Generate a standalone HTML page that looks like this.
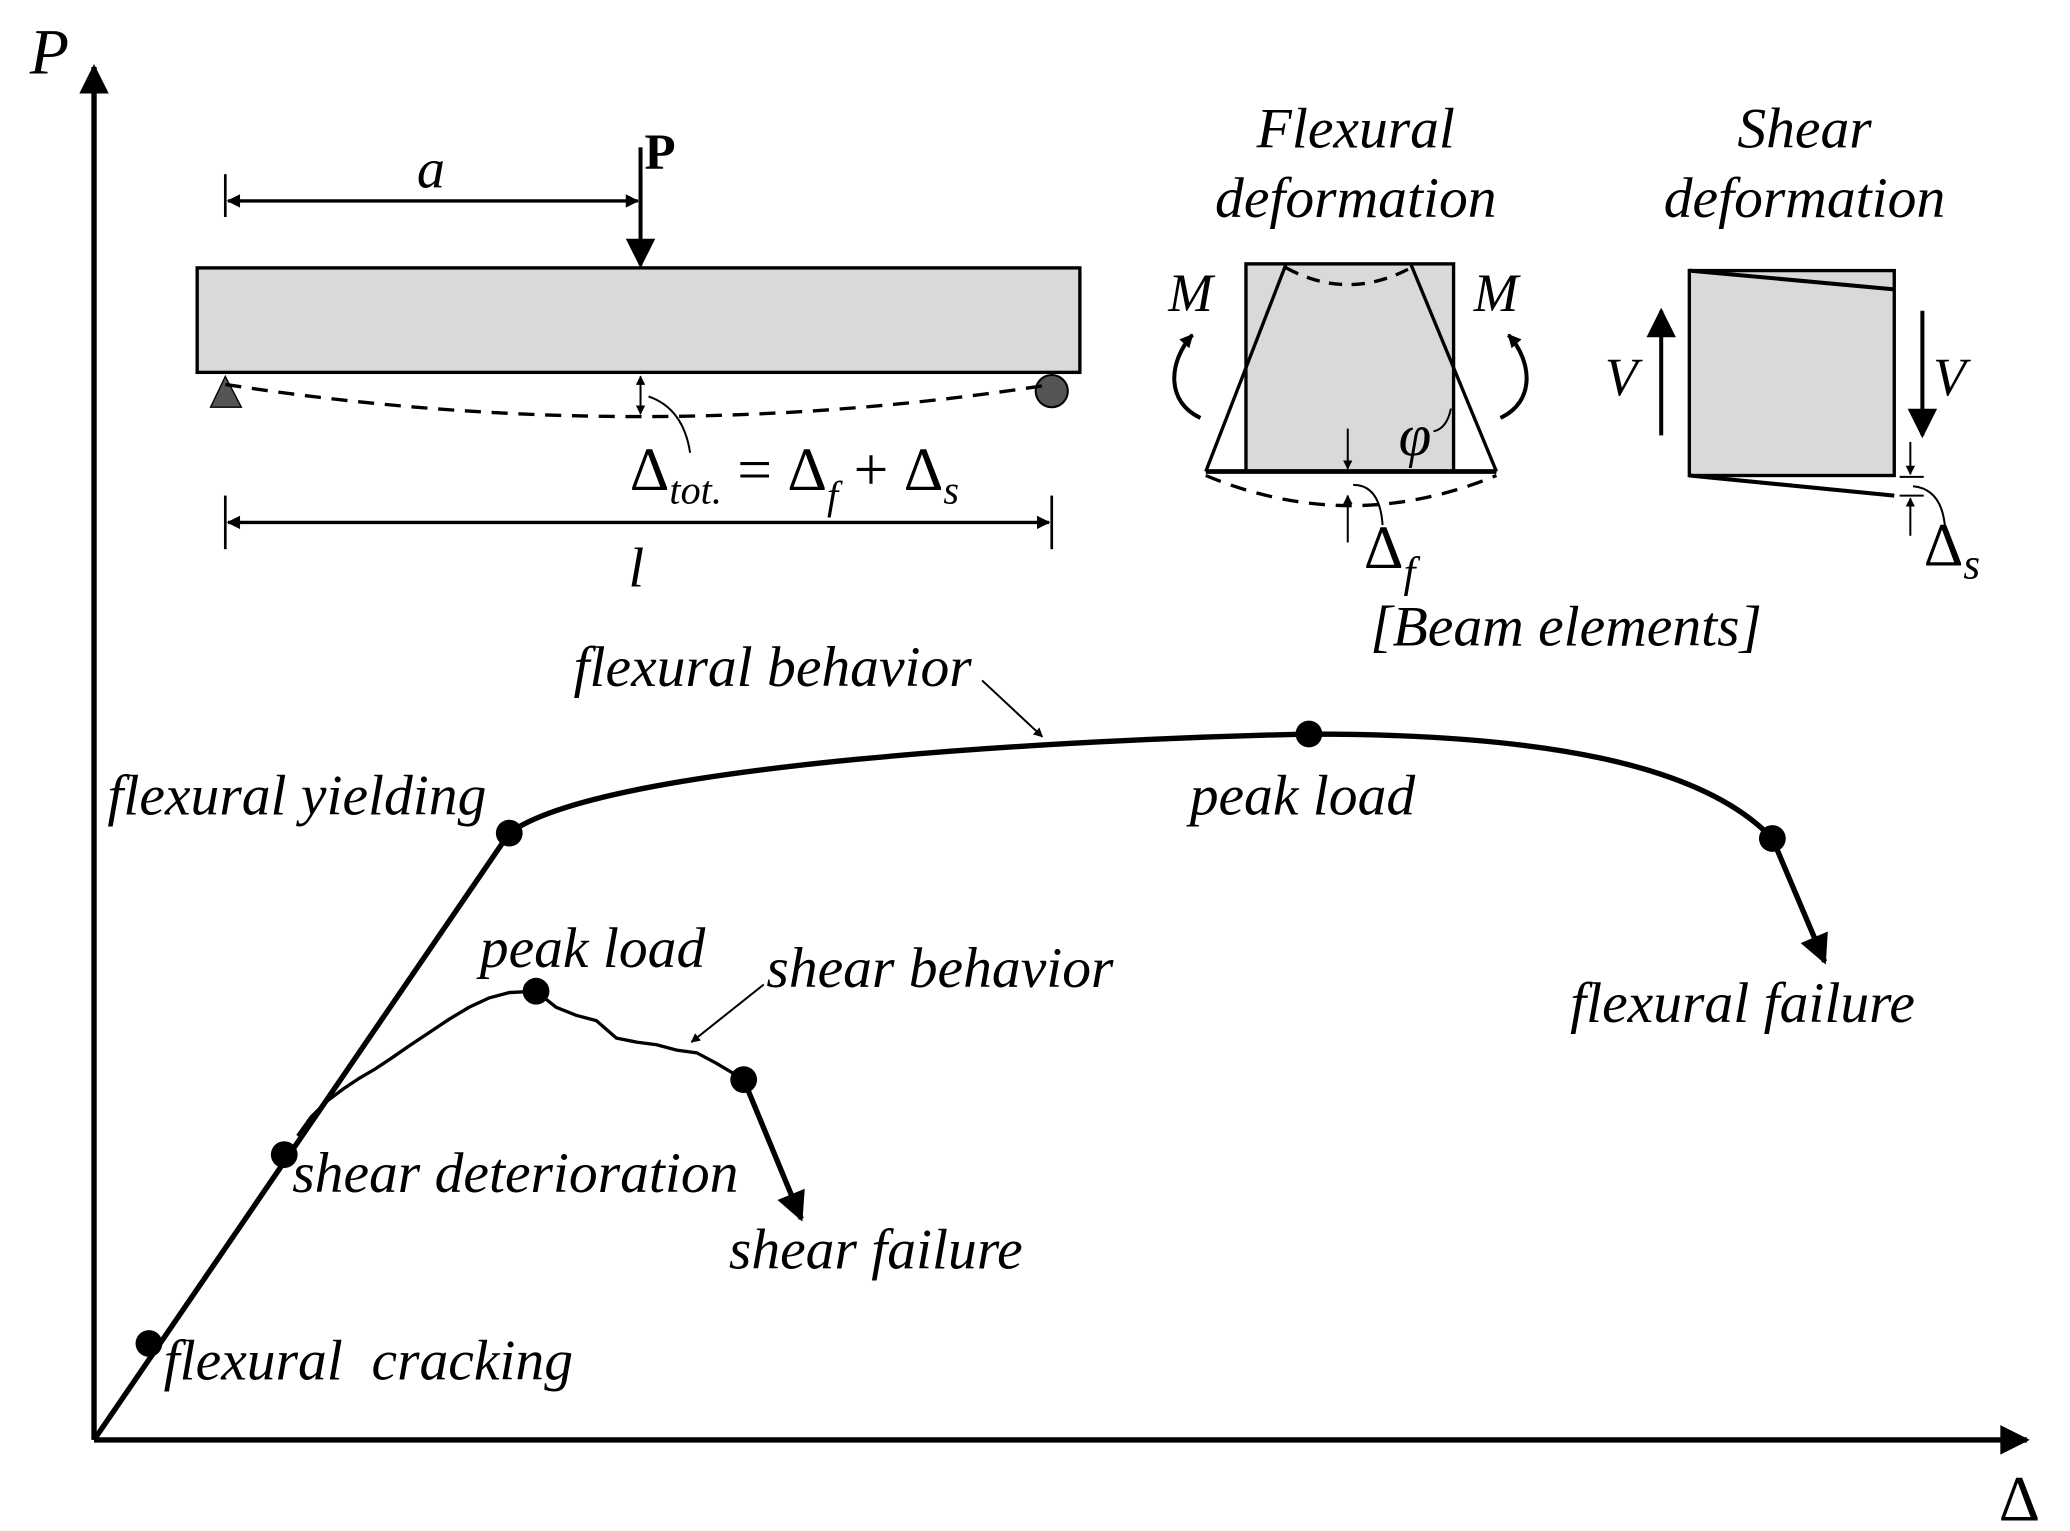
<!DOCTYPE html>
<html><head><meta charset="utf-8"><style>html,body{margin:0;padding:0;background:#fff}svg{display:block}text{font-family:"Liberation Serif",serif;font-style:italic;fill:#000}</style></head><body>
<svg width="2070" height="1531" viewBox="0 0 1545 1143" xmlns="http://www.w3.org/2000/svg">
<defs>
<marker id="ah" viewBox="0 0 10 10" refX="9" refY="5" markerWidth="7" markerHeight="7" orient="auto-start-reverse" markerUnits="userSpaceOnUse"><path d="M0,0 L10,5 L0,10 z"/></marker>
<marker id="big" viewBox="0 0 10 10" refX="9" refY="5" markerWidth="26" markerHeight="22" orient="auto" markerUnits="userSpaceOnUse"><path d="M0,0 L10,5 L0,10 z"/></marker>
<marker id="sm" viewBox="0 0 10 10" refX="9" refY="5" markerWidth="14" markerHeight="10" orient="auto-start-reverse" markerUnits="userSpaceOnUse"><path d="M0,0 L10,5 L0,10 z"/></marker>
</defs>
<line x1="70" y1="1075" x2="70" y2="50" stroke="#000" stroke-width="4" marker-end="url(#big)"/>
<line x1="70" y1="1075" x2="1513" y2="1075" stroke="#000" stroke-width="4" marker-end="url(#big)"/>
<text x="22" y="55" font-size="48">P</text>
<text x="1492" y="1135" font-size="48" style="font-style:normal">Δ</text>
<rect x="147" y="200" width="659" height="78" fill="#d9d9d9" stroke="#000" stroke-width="2.5"/>
<path d="M168,281 L157,304 L180,304 z" fill="#555" stroke="#000"/>
<circle cx="785" cy="292" r="12" fill="#555" stroke="#000" stroke-width="1.5"/>
<path d="M168,287 Q478,335 785,287" fill="none" stroke="#000" stroke-width="2.5" stroke-dasharray="12,8"/>
<line x1="478" y1="110" x2="478" y2="198" stroke="#000" stroke-width="3" marker-end="url(#big)"/>
<text x="481" y="126" font-size="38" style="font-style:normal;font-weight:bold">P</text>
<line x1="168" y1="130" x2="168" y2="162" stroke="#000" stroke-width="2"/>
<line x1="170" y1="150" x2="476" y2="150" stroke="#000" stroke-width="2.5" marker-start="url(#sm)" marker-end="url(#sm)"/>
<text x="311" y="140" font-size="42">a</text>
<line x1="478" y1="281" x2="478" y2="309" stroke="#000" stroke-width="1.5" marker-start="url(#ah)" marker-end="url(#ah)"/>
<path d="M484,296 Q510,305 515,338" fill="none" stroke="#000" stroke-width="1.5"/>
<text x="470" y="366" font-size="46" style="font-style:normal">Δ<tspan font-size="30" dy="10" font-style="italic">tot.</tspan><tspan dy="-10"> = Δ</tspan><tspan font-size="30" dy="14" font-style="italic">f</tspan><tspan dy="-14"> + Δ</tspan><tspan font-size="30" dy="10" font-style="italic">s</tspan></text>
<line x1="168" y1="370" x2="168" y2="410" stroke="#000" stroke-width="2"/>
<line x1="785" y1="370" x2="785" y2="410" stroke="#000" stroke-width="2"/>
<line x1="170" y1="390" x2="783" y2="390" stroke="#000" stroke-width="2.5" marker-start="url(#sm)" marker-end="url(#sm)"/>
<text x="469" y="438" font-size="42">l</text>
<text x="1012" y="110" font-size="43" text-anchor="middle">Flexural</text>
<text x="1012" y="162" font-size="43" text-anchor="middle">deformation</text>
<rect x="930" y="197" width="155" height="155" fill="#d9d9d9" stroke="#000" stroke-width="2.5"/>
<line x1="960" y1="197" x2="900" y2="352" stroke="#000" stroke-width="2.5"/>
<line x1="1053" y1="197" x2="1117" y2="352" stroke="#000" stroke-width="2.5"/>
<line x1="900" y1="352" x2="1117" y2="352" stroke="#000" stroke-width="3.5"/>
<path d="M960,200 Q1006,225 1053,200" fill="none" stroke="#000" stroke-width="2.5" stroke-dasharray="10,7"/>
<path d="M900,355 Q1008,400 1117,355" fill="none" stroke="#000" stroke-width="2.5" stroke-dasharray="12,8"/>
<text x="872" y="232" font-size="40">M</text>
<text x="1100" y="232" font-size="40">M</text>
<path d="M896,312 C870,300 872,270 890,250" fill="none" stroke="#000" stroke-width="3" marker-end="url(#sm)"/>
<path d="M1120,312 C1146,300 1144,270 1126,250" fill="none" stroke="#000" stroke-width="3" marker-end="url(#sm)"/>
<text x="1044" y="340" font-size="44">φ</text>
<path d="M1070,322 Q1080,320 1083,305" fill="none" stroke="#000" stroke-width="1.5"/>
<line x1="1006" y1="320" x2="1006" y2="350" stroke="#000" stroke-width="1.5" marker-end="url(#ah)"/>
<line x1="1006" y1="405" x2="1006" y2="370" stroke="#000" stroke-width="1.5" marker-end="url(#ah)"/>
<path d="M1010,362 Q1030,362 1032,392" fill="none" stroke="#000" stroke-width="1.5"/>
<text x="1018" y="424" font-size="46" style="font-style:normal">Δ<tspan font-size="32" dy="14" font-style="italic">f</tspan></text>
<text x="1169" y="482" font-size="43" text-anchor="middle">[Beam elements]</text>
<text x="1347" y="110" font-size="43" text-anchor="middle">Shear</text>
<text x="1347" y="162" font-size="43" text-anchor="middle">deformation</text>
<rect x="1261" y="202" width="153" height="153" fill="#d9d9d9" stroke="#000" stroke-width="2.5"/>
<line x1="1261" y1="202" x2="1414" y2="216" stroke="#000" stroke-width="3"/>
<line x1="1261" y1="355" x2="1414" y2="370" stroke="#000" stroke-width="3"/>
<line x1="1240" y1="325" x2="1240" y2="232" stroke="#000" stroke-width="3" marker-end="url(#big)"/>
<line x1="1435" y1="232" x2="1435" y2="325" stroke="#000" stroke-width="3" marker-end="url(#big)"/>
<text x="1198" y="295" font-size="40">V</text>
<text x="1443" y="295" font-size="40">V</text>
<line x1="1426" y1="330" x2="1426" y2="354" stroke="#000" stroke-width="1.5" marker-end="url(#ah)"/>
<line x1="1426" y1="400" x2="1426" y2="372" stroke="#000" stroke-width="1.5" marker-end="url(#ah)"/>
<line x1="1418" y1="356" x2="1436" y2="356" stroke="#000" stroke-width="1.5"/>
<line x1="1418" y1="370" x2="1436" y2="370" stroke="#000" stroke-width="1.5"/>
<path d="M1428,363 Q1450,365 1452,395" fill="none" stroke="#000" stroke-width="1.5"/>
<text x="1436" y="422" font-size="46" style="font-style:normal">Δ<tspan font-size="32" dy="10" font-style="italic">s</tspan></text>
<path d="M70,1075 L380,622" fill="none" stroke="#000" stroke-width="4"/>
<path d="M380,622 C450,570 800,552 977,548 C1150,548 1270,570 1323,626" fill="none" stroke="#000" stroke-width="4"/>
<line x1="1323" y1="626" x2="1362" y2="718" stroke="#000" stroke-width="4" marker-end="url(#big)"/>
<path d="M222,848 L232,834 L244,822 L256,813 L268,805 L280,798 L292,790 L305,781 L320,771 L335,761 L350,752 L365,745 L380,741 L400,740 L415,752 L430,758 L445,762 L460,775 L475,778 L490,780 L505,784 L520,786 L535,794 L555,806" fill="none" stroke="#000" stroke-width="2.5"/>
<line x1="555" y1="806" x2="598" y2="910" stroke="#000" stroke-width="4" marker-end="url(#big)"/>
<path d="M733,508 L778,550" stroke="#000" stroke-width="1.5" marker-end="url(#ah)"/>
<path d="M570,735 L516,778" stroke="#000" stroke-width="1.5" marker-end="url(#ah)"/>
<g fill="#000">
<circle cx="111" cy="1003" r="10"/><circle cx="212" cy="862" r="10"/><circle cx="380" cy="622" r="10"/>
<circle cx="400" cy="740" r="10"/><circle cx="555" cy="806" r="10"/><circle cx="977" cy="548" r="10"/><circle cx="1323" cy="626" r="10"/>
</g>
<g font-size="43">
<text x="428" y="512">flexural behavior</text>
<text x="80" y="608">flexural yielding</text>
<text x="888" y="608">peak load</text>
<text x="1172" y="763">flexural failure</text>
<text x="358" y="722">peak load</text>
<text x="572" y="737">shear behavior</text>
<text x="218" y="890">shear deterioration</text>
<text x="544" y="947">shear failure</text>
<text x="122" y="1030" xml:space="preserve">flexural  cracking</text>
</g>
</svg>
</body></html>
